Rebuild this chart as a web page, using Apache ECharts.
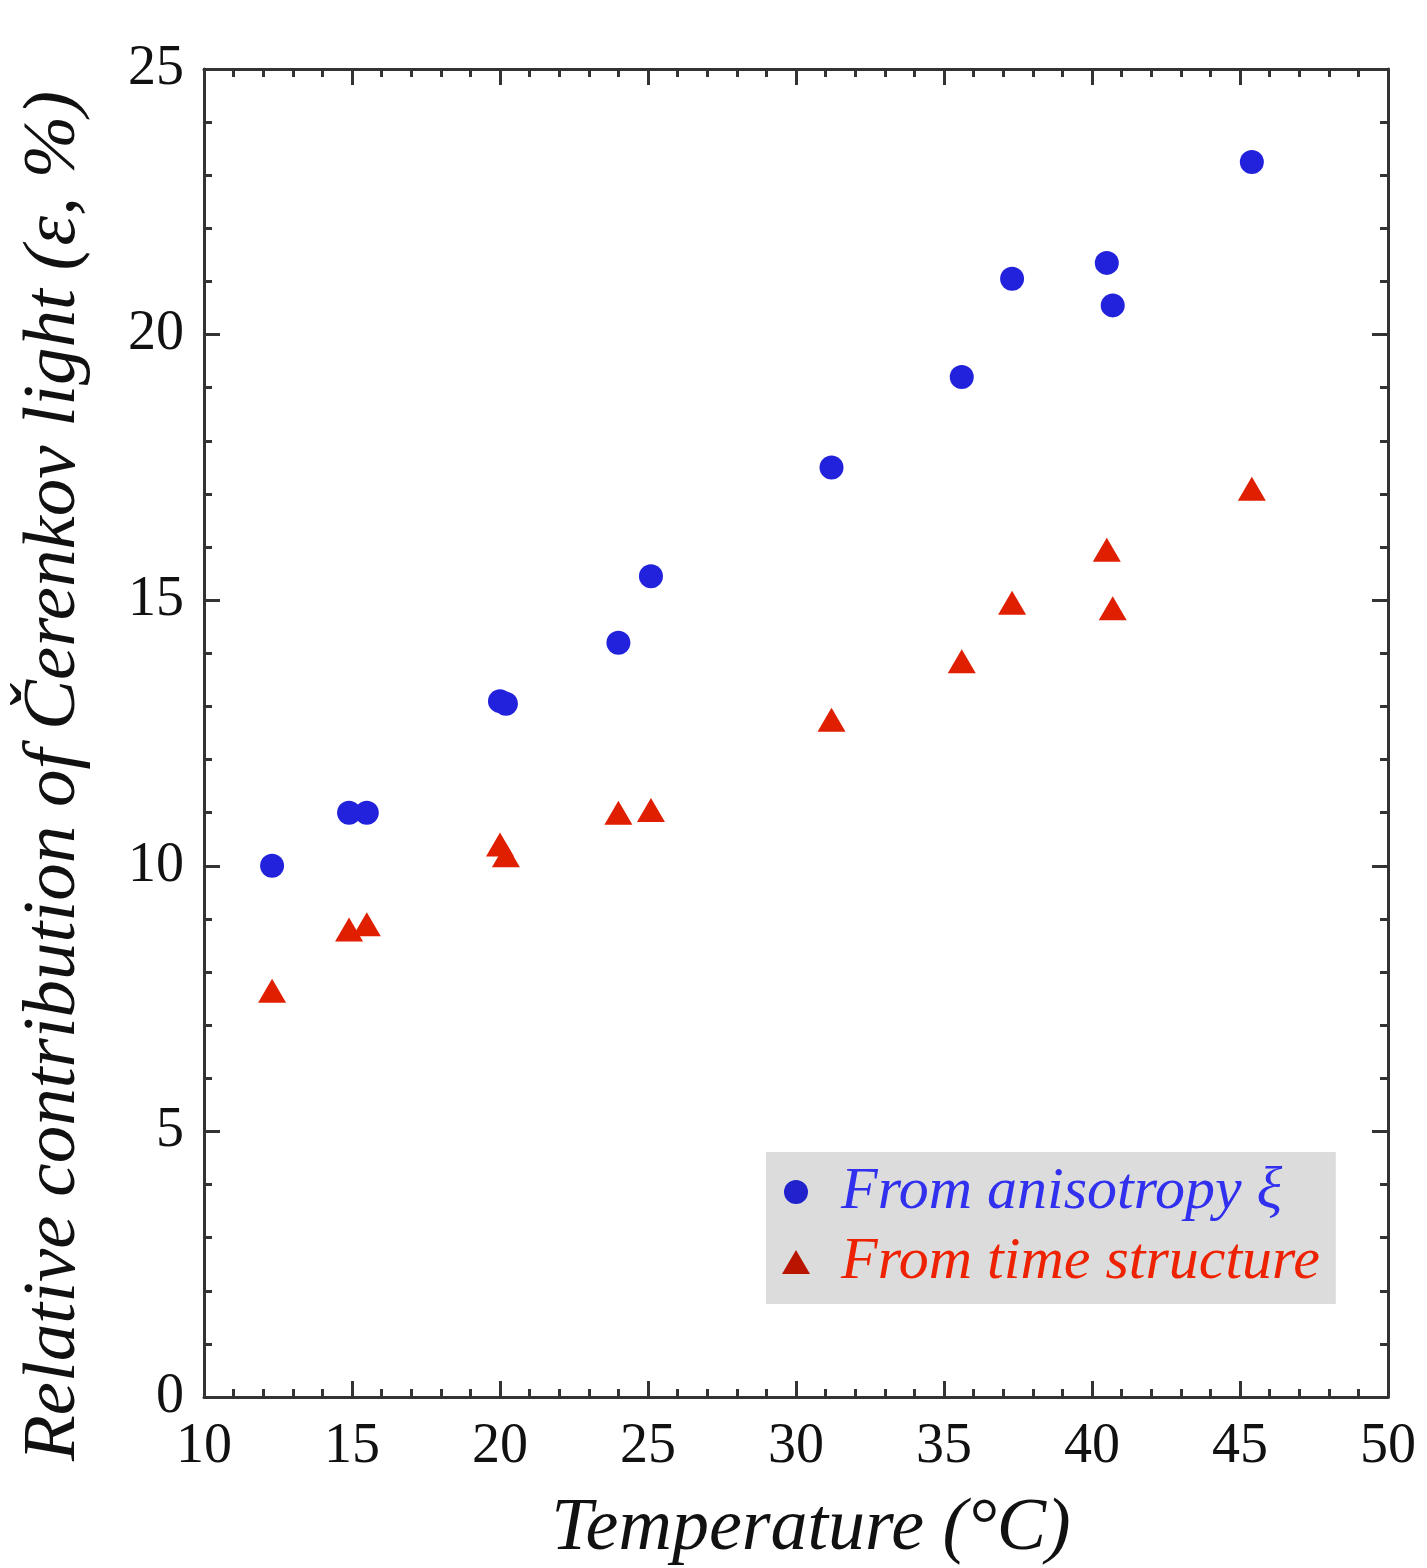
<!DOCTYPE html>
<html>
<head>
<meta charset="utf-8">
<script src="https://cdn.jsdelivr.net/npm/echarts@6/dist/echarts.min.js"></script>
<style>
  html, body { margin: 0; padding: 0; background: #ffffff; }
  #chart { width: 1427px; height: 1568px; }
</style>
</head>
<body>
<div id="chart"></div>
<script>
// Temperature (°C) for each measurement
const temperature = [12.3, 14.9, 15.5, 20.0, 20.2, 24.0, 25.1, 31.2, 35.6, 37.3, 40.5, 40.7, 45.4];
// Relative contribution from anisotropy xi (%)
const anisotropy = [10.0, 11.0, 11.0, 13.1, 13.05, 14.2, 15.45, 17.5, 19.2, 21.05, 21.35, 20.55, 23.25];
// Relative contribution from time structure (%)
const timeStructure = [7.65, 8.8, 8.9, 10.4, 10.2, 11.0, 11.05, 12.75, 13.85, 14.95, 15.95, 14.85, 17.1];

const xTicks = { min: 10, max: 50, interval: 5 };
const yTicks = { min: 0, max: 25, interval: 5 };

const seriesNames = ['From anisotropy \u03BE', 'From time structure'];

const axisColor = '#333333';
const serif = '"Liberation Serif", "DejaVu Serif", serif';

function pairs(xs, ys) { return xs.map((x, i) => [x, ys[i]]); }

const baseAxis = {
  axisLine: { show: true, onZero: false, lineStyle: { color: axisColor, width: 3 } },
  axisTick: { show: true, inside: true, length: 16, lineStyle: { color: axisColor, width: 3 } },
  minorTick: { show: true, splitNumber: 5, length: 8, lineStyle: { color: axisColor, width: 3 } },
  splitLine: { show: false },
  minorSplitLine: { show: false }
};

const chart = echarts.init(document.getElementById('chart'), null, { renderer: 'canvas' });
chart.setOption({
  backgroundColor: '#ffffff',
  animation: false,
  grid: { left: 204, top: 69, right: 39, bottom: 171, containLabel: false, outerBoundsMode: 'none' },
  legend: {
    left: 766, top: 1152,
    orient: 'vertical',
    backgroundColor: '#dcdcdc',
    padding: [10, 16, 12, 16],
    itemGap: 10,
    itemWidth: 28,
    itemHeight: 24,
    textStyle: { fontFamily: serif, fontStyle: 'italic', fontSize: 60, lineHeight: 60, padding: [0, 0, 0, 26] },
    data: [
      { name: seriesNames[0], icon: 'circle', itemStyle: { color: '#2222cc', opacity: 1 }, textStyle: { color: '#3030ee' } },
      { name: seriesNames[1], icon: 'triangle', itemStyle: { color: '#b81400', opacity: 1 }, textStyle: { color: '#ee2200' } }
    ]
  },
  xAxis: [
    Object.assign({}, baseAxis, {
      type: 'value', position: 'bottom',
      min: xTicks.min, max: xTicks.max, interval: xTicks.interval,
      axisLabel: { show: true, margin: 22, color: '#111', fontFamily: serif, fontSize: 56 },
      name: 'Temperature (\u00B0C)',
      nameLocation: 'middle', nameGap: 96,
      nameTextStyle: { color: '#111', fontFamily: serif, fontStyle: 'italic', fontSize: 74, padding: [0, 0, 0, 30] }
    }),
    Object.assign({}, baseAxis, {
      type: 'value', position: 'top',
      min: xTicks.min, max: xTicks.max, interval: xTicks.interval,
      axisLabel: { show: false }
    })
  ],
  yAxis: [
    Object.assign({}, baseAxis, {
      type: 'value', position: 'left',
      min: yTicks.min, max: yTicks.max, interval: yTicks.interval,
      axisLabel: { show: true, margin: 20, color: '#111', fontFamily: serif, fontSize: 56 },
      name: 'Relative contribution of \u010Cerenkov light (\u03B5, %)',
      nameLocation: 'middle', nameGap: 112,
      nameTextStyle: { color: '#111', fontFamily: serif, fontStyle: 'italic', fontSize: 75, padding: [0, 86, 0, 0] }
    }),
    Object.assign({}, baseAxis, {
      type: 'value', position: 'right',
      min: yTicks.min, max: yTicks.max, interval: yTicks.interval,
      axisLabel: { show: false }
    })
  ],
  series: [
    {
      name: seriesNames[0], type: 'scatter', xAxisIndex: 0, yAxisIndex: 0,
      symbol: 'circle', symbolSize: 24,
      itemStyle: { color: '#2222dd', opacity: 1 },
      data: pairs(temperature, anisotropy)
    },
    {
      name: seriesNames[1], type: 'scatter', xAxisIndex: 0, yAxisIndex: 0,
      symbol: 'triangle', symbolSize: [28, 24],
      itemStyle: { color: '#e01e00', opacity: 1 },
      data: pairs(temperature, timeStructure)
    }
  ]
});
</script>
</body>
</html>
